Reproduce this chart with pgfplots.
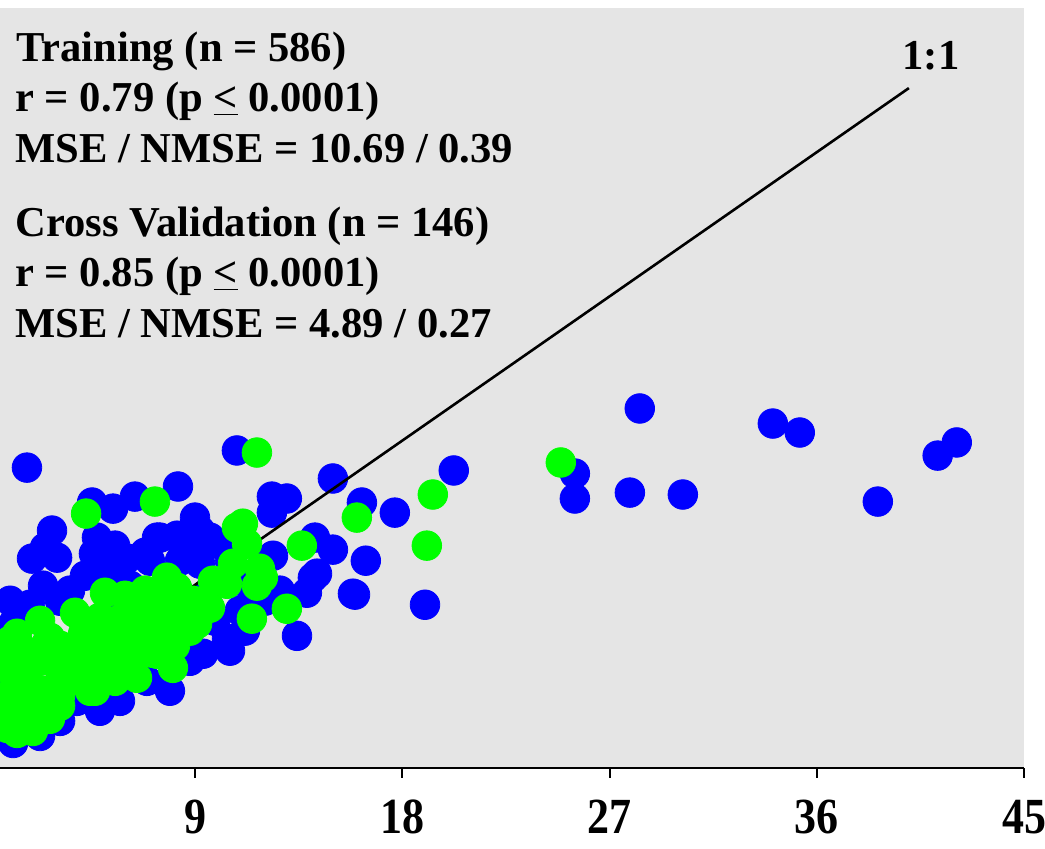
\documentclass[border=0pt]{standalone}
\usepackage{pgfplots}
\pgfplotsset{compat=1.18}
\usepackage{fontspec}
\setmainfont{Liberation Serif}
\definecolor{bggray}{RGB}{229,229,229}
\definecolor{ptblue}{RGB}{0,0,255}
\definecolor{ptgreen}{RGB}{0,255,0}
\begin{document}
\begin{tikzpicture}
\useasboundingbox (0,-40.5pt) rectangle (522.5pt,384pt);
\begin{axis}[
  at={(0,0)}, anchor=south west,
  scale only axis, width=512pt, height=380pt,
  xmin=0.52, xmax=45, ymin=-2.44, ymax=45,
  axis x line=bottom, axis y line=none,
  x axis line style={-, black, line width=1.2pt},
  axis background/.style={fill=bggray},
  xtick={9,18,27,36,45},
  tick align=outside, major tick length=5pt,
  x tick style={black, line width=1pt},
  /pgf/number format/assume math mode=true,
  xticklabel style={font=\bfseries\fontsize{22pt}{22pt}\selectfont, yscale=1.15, yshift=-8.5pt, inner sep=1pt},
  clip=true, clip marker paths=true,
]
\addplot[ptblue, only marks, mark=*, mark size=7.4pt] table[row sep=\\] {
x y\\
28.31 20.0\\ 34.09 19.06\\ 35.26 18.5\\ 41.25 17.06\\ 42.08 17.88\\ 38.65 14.19\\
30.18 14.63\\ 27.88 14.75\\ 25.49 14.38\\ 25.49 15.94\\ 20.23 16.13\\ 18.98 7.75\\
17.67 13.5\\ 16.24 14.13\\ 15.94 8.38\\ 14.98 15.63\\ 10.81 17.38\\ 1.69 16.31\\
8.25 15.13\\ 6.38 14.5\\ 4.52 14.13\\ 5.43 13.75\\ 12.33 14.5\\ 12.98 14.38\\
12.33 13.5\\ 8.99 13.19\\ 2.78 12.38\\ 1.91 10.63\\ 3.0 10.69\\ 2.47 11.31\\
4.73 11.94\\ 4.6 10.94\\ 7.34 11.94\\ 8.21 12.06\\ 9.21 11.88\\ 9.94 11.56\\
6.04 10.63\\ 2.39 8.94\\ 1.82 7.75\\ 14.2 11.94\\ 14.98 11.19\\ 16.41 10.5\\
12.38 10.81\\ 14.11 9.44\\ 15.85 8.44\\ 13.85 8.5\\ 13.42 5.81\\ 11.51 8.63\\
9.21 10.31\\ 9.51 8.44\\ 9.34 4.69\\ 10.38 5.63\\ 6.9 3.0\\ 3.86 1.75\\
1.09 -0.88\\ 0.52 4.75\\ 7.47 11.94\\ 8.34 11.75\\ 9.64 11.94\\ 14.29 9.69\\
5.3 9.56\\ 6.17 8.94\\ 7.03 10.5\\ 8.34 10.5\\ 10.51 10.5\\ 10.94 9.25\\
7.03 8.0\\ 5.73 8.0\\ 8.77 8.0\\ 9.86 6.75\\ 10.94 7.38\\ 12.03 8.0\\
12.68 8.63\\ 11.16 6.13\\ 10.51 4.88\\ 8.77 4.25\\ 7.9 2.38\\ 5.73 1.75\\
4.86 1.13\\ 3.13 0.5\\ 2.26 -0.44\\ 1.82 0.38\\ 0.96 1.75\\ 0.74 3.0\\
1.17 6.75\\ 3.56 8.63\\ 4.21 9.56\\ 3.13 8.0\\ 0.96 8.0\\ 0.52 6.13\\
5.52 11.44\\ 6.82 11.0\\ 4.86 10.19\\ 9.21 12.38\\
};
\addplot[black, line width=1.3pt] coordinates {(0,0) (40,40)};
\addplot[ptgreen, only marks, mark=*, mark size=7.4pt] table[row sep=\\] {
x y\\
11.68 17.25\\ 24.88 16.63\\ 19.32 14.63\\ 19.06 11.44\\ 16.02 13.19\\ 7.25 14.19\\
4.26 13.44\\ 10.81 12.56\\ 13.63 11.44\\ 12.98 7.5\\ 11.46 6.88\\ 11.81 10.0\\
11.94 9.44\\ 11.07 12.81\\ 11.25 11.56\\ 11.68 8.94\\ 7.77 9.44\\ 9.77 9.25\\
8.21 8.81\\ 10.38 9.06\\ 5.08 8.5\\ 3.78 7.25\\ 4.86 6.94\\ 6.6 7.38\\
7.47 6.56\\ 8.03 5.94\\ 9.08 6.56\\ 9.64 7.56\\ 1.26 5.94\\ 2.69 5.69\\
4.13 5.94\\ 5.6 5.69\\ 6.6 5.06\\ 7.34 4.69\\ 8.03 3.81\\ 6.47 3.19\\
0.96 3.63\\ 1.95 2.56\\ 3.13 3.63\\ 4.13 4.69\\ 4.86 3.44\\ 1.39 0.94\\
2.69 1.13\\ 0.83 0.06\\ 1.95 -0.13\\ 5.17 6.56\\ 7.9 6.0\\ 2.56 5.38\\
1.39 3.75\\ 4.13 3.75\\ 3.13 2.06\\ 0.83 2.06\\ 2.69 0.63\\ 1.26 -0.25\\
5.3 3.94\\ 6.3 5.19\\ 7.16 4.75\\ 8.64 7.06\\ 9.51 7.69\\ 8.03 8.0\\
8.34 7.56\\ 8.9 8.0\\ 10.64 10.31\\ 6.38 7.81\\ 5.6 6.75\\ 0.65 4.56\\
0.61 1.44\\ 2.26 4.25\\ 3.56 4.88\\ 5.73 4.56\\ 4.43 2.38\\ 2.26 1.75\\
6.17 6.13\\
1.61 4.88\\ 2.26 6.75\\ 3.13 5.19\\ 4.43 6.44\\ 5.95 6.44\\ 4.86 4.88\\
3.56 3.0\\ 4.65 2.38\\ 5.52 3.0\\ 6.17 4.25\\ 7.03 5.81\\ 1.82 3.94\\
1.17 2.38\\ 2.47 2.38\\ 2.26 0.81\\ 1.61 0.19\\ 3.13 1.44\\ 7.47 8.0\\
6.82 8.63\\ 5.95 8.31\\ 8.12 5.19\\ 8.77 6.13\\ 0.96 5.5\\ 0.74 0.81\\
};
\end{axis}
\begin{scope}[every node/.style={anchor=base west, inner sep=0pt, font=\bfseries\fontsize{21.3pt}{25pt}\selectfont}]
\node at (8pt,353pt) {Training (n = 586)};
\node at (7.5pt,328pt) {r = 0.79 (p \underline{<} 0.0001)};
\node at (7.5pt,302.5pt) {MSE / NMSE = 10.69 / 0.39};
\node at (7.5pt,265.5pt) {Cross Validation (n = 146)};
\node at (7.5pt,240.5pt) {r = 0.85 (p \underline{<} 0.0001)};
\node at (7.5pt,215pt) {MSE / NMSE = 4.89 / 0.27};
\node[anchor=base] at (465.5pt,349pt) {1:1};
\end{scope}
\end{tikzpicture}
\end{document}
